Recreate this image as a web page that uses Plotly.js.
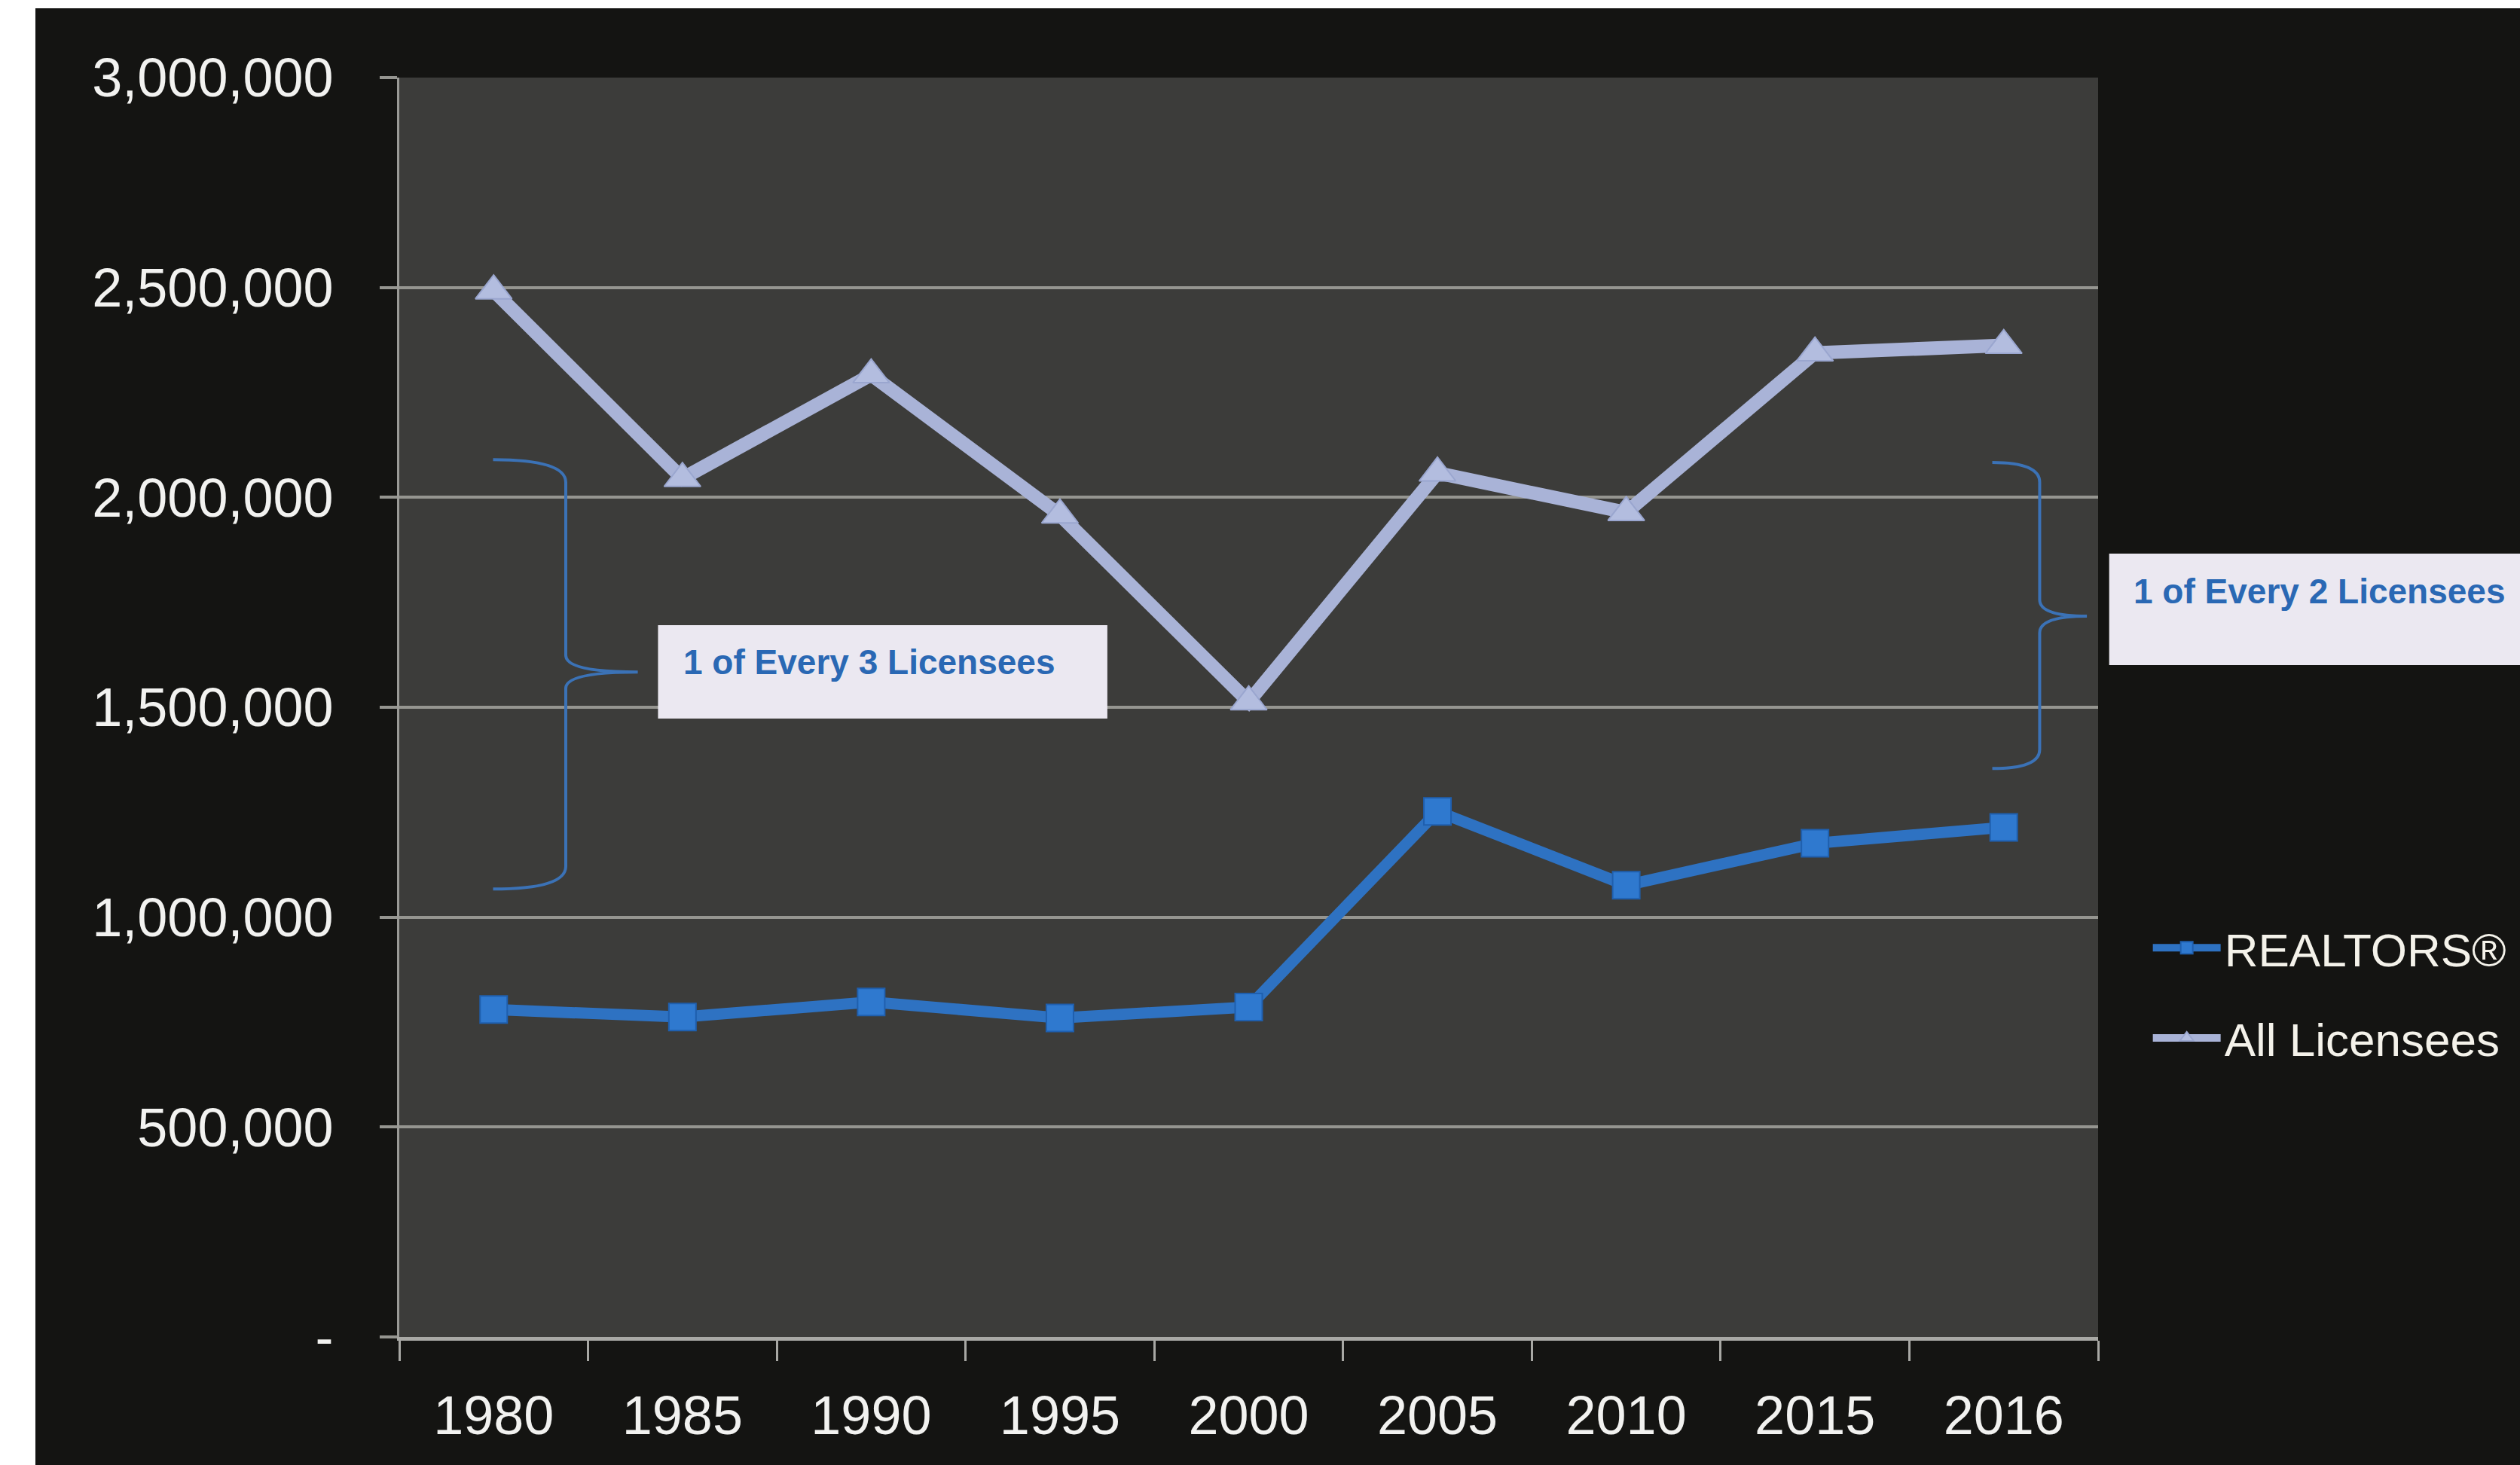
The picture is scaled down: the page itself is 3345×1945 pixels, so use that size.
<!DOCTYPE html>
<html>
<head>
<meta charset="utf-8">
<script src="https://cdn.plot.ly/plotly-3.0.1.min.js"></script>
<style>
  html, body { margin: 0; padding: 0; background: #ffffff; }
  #chart { position: absolute; left: 47px; top: 11px; width: 3298px; height: 1934px; }
</style>
</head>
<body>
<div id="chart"></div>
<script>
// Licensee counts by year
const years = ['1980', '1985', '1990', '1995', '2000', '2005', '2010', '2015', '2016'];
const realtors = [780000, 762000, 798000, 760000, 786000, 1252000, 1076000, 1176000, 1214000];
const allLicensees = [2492000, 2045000, 2292000, 1958000, 1513000, 2058000, 1964000, 2344000, 2362000];

const yTickVals = [0, 500000, 1000000, 1500000, 2000000, 2500000, 3000000];
const yTickText = ['-', '500,000', '1,000,000', '1,500,000', '2,000,000', '2,500,000', '3,000,000'];

const seriesNames = ['REALTORS®', 'All Licensees'];
const calloutText = ['1 of Every 3 Licensees', '1 of Every 2 Licensees'];

const tickFont = { family: 'Liberation Sans, Arial, sans-serif', size: 72, color: '#f2f2f0' };
const calloutFont = { family: 'Liberation Sans, Arial, sans-serif', size: 46, color: '#2a68b4', weight: 'bold' };
const braceColor = '#3b72b6';
const boxFill = '#ebe8f1';

const traces = [
  {
    x: years, y: realtors, name: seriesNames[0], type: 'scatter', mode: 'lines+markers',
    legendgroup: 'a',
    line: { color: '#2e72c2', width: 15 },
    marker: { symbol: 'square', size: 36, color: '#2f79cf', line: { color: '#1f5fae', width: 2 } }
  },
  {
    x: years, y: allLicensees, name: seriesNames[1], type: 'scatter', mode: 'lines+markers',
    legendgroup: 'b',
    line: { color: '#a9b3d7', width: 18 },
    marker: { symbol: 'triangle-up', size: 42, color: '#b3bddf', line: { color: '#9aa6cf', width: 2 } }
  }
];

// curly braces drawn in paper-x / data-y space
const leftBrace = 'M0.0552,2090000 Q0.0980,2090000 0.0980,2036000 L0.0980,1624000 ' +
  'Q0.0980,1584000 0.1404,1584000 Q0.0980,1584000 0.0980,1545000 L0.0980,1121000 ' +
  'Q0.0980,1067000 0.0552,1067000';
const rightBrace = 'M0.9377,2083000 Q0.9656,2083000 0.9656,2036000 L0.9656,1756000 ' +
  'Q0.9656,1717000 0.9934,1717000 Q0.9656,1717000 0.9656,1677000 L0.9656,1399000 ' +
  'Q0.9656,1354000 0.9377,1354000';

const layout = {
  width: 3298,
  height: 1934,
  margin: { l: 483, r: 550, t: 92, b: 170 },
  paper_bgcolor: '#141412',
  plot_bgcolor: '#3c3c3a',
  showlegend: true,
  legend: {
    x: 1.030, xanchor: 'left',
    y: 0.337, yanchor: 'top',
    font: { family: 'Liberation Sans, Arial, sans-serif', size: 62, color: '#f4f2ea' },
    bgcolor: 'rgba(0,0,0,0)',
    traceorder: 'grouped',
    tracegroupgap: 36,
    itemwidth: 90
  },
  xaxis: {
    type: 'category',
    range: [-0.5, 8.5],
    showgrid: false,
    showline: true, linecolor: '#a8a8a4', linewidth: 5,
    ticks: 'outside', tickson: 'boundaries', ticklen: 27, tickwidth: 3, tickcolor: '#a8a8a4',
    tickfont: tickFont,
    ticklabelstandoff: 38,
    fixedrange: true
  },
  yaxis: {
    range: [0, 3000000],
    tickvals: yTickVals, ticktext: yTickText,
    showgrid: true, gridcolor: '#959590', gridwidth: 4,
    zeroline: false,
    showline: true, linecolor: '#9a9a96', linewidth: 3,
    ticks: 'outside', ticklen: 23, tickwidth: 4, tickcolor: '#959590',
    tickfont: tickFont,
    ticklabelstandoff: 47,
    fixedrange: true
  },
  shapes: [
    { type: 'path', xref: 'paper', yref: 'y', path: leftBrace, line: { color: braceColor, width: 4 } },
    { type: 'path', xref: 'paper', yref: 'y', path: rightBrace, line: { color: braceColor, width: 4 } },
    { type: 'rect', xref: 'paper', yref: 'paper', x0: 0.1523, x1: 0.4168, y0: 0.491, y1: 0.5652,
      fillcolor: boxFill, line: { width: 0 } },
    { type: 'rect', xref: 'paper', yref: 'paper', x0: 1.0065, x1: 1.30, y0: 0.5335, y1: 0.622,
      fillcolor: boxFill, line: { width: 0 } }
  ],
  annotations: [
    { xref: 'paper', yref: 'paper', x: 0.1664, y: 0.5359, xanchor: 'left', yanchor: 'middle',
      text: calloutText[0], showarrow: false, font: calloutFont },
    { xref: 'paper', yref: 'paper', x: 1.0200, y: 0.5921, xanchor: 'left', yanchor: 'middle',
      text: calloutText[1], showarrow: false, font: calloutFont }
  ]
};

Plotly.newPlot('chart', traces, layout, { displayModeBar: false, staticPlot: true });
</script>
</body>
</html>
